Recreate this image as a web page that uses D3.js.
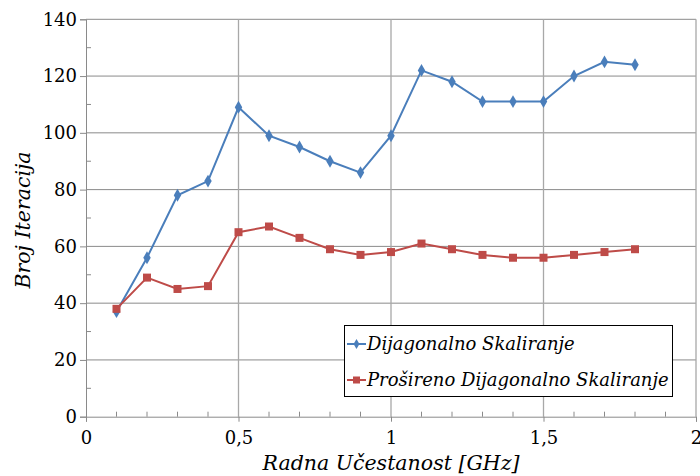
<!DOCTYPE html>
<html><head><meta charset="utf-8">
<script src="https://cdn.jsdelivr.net/npm/d3@7"></script>
<style>body{margin:0;background:#fff}svg{display:block}</style>
</head><body>
<svg id="c" width="700" height="476"></svg>
<script>
const freq = [0.1,0.2,0.3,0.4,0.5,0.6,0.7,0.8,0.9,1.0,1.1,1.2,1.3,1.4,1.5,1.6,1.7,1.8];
const dijagonalno = [37,56,78,83,109,99,95,90,86,99,122,118,111,111,111,120,125,124];
const prosireno = [38,49,45,46,65,67,63,59,57,58,61,59,57,56,56,57,58,59];
const seriesNames = ["Dijagonalno Skaliranje","Prošireno Dijagonalno Skaliranje"];
const xTicks = [0,0.5,1,1.5,2];
const xTickLabels = ["0","0,5","1","1,5","2"];
const yTicks = [0,20,40,60,80,100,120,140];

const svg = d3.select("#c");
const m = {l:86, r:696, t:19.3, b:416.7};
const x = d3.scaleLinear().domain([0,2]).range([m.l,m.r]);
const y = d3.scaleLinear().domain([0,140]).range([m.b,m.t]);
const font = "'DejaVu Serif', serif";
const grid = "#8a8a8a";

svg.append("g").selectAll("line").data(yTicks.filter(d=>d>0)).join("line")
  .attr("x1",m.l).attr("x2",m.r).attr("y1",d=>y(d)).attr("y2",d=>y(d))
  .attr("stroke",grid).attr("stroke-width",1);
svg.append("g").selectAll("line").data(xTicks.filter(d=>d>0)).join("line")
  .attr("x1",d=>x(d)).attr("x2",d=>x(d)).attr("y1",m.t).attr("y2",m.b)
  .attr("stroke","#a8a8a8").attr("stroke-width",1.3);

const yAxis = d3.axisLeft(y).tickValues(yTicks).tickSize(6).tickPadding(3).tickFormat(d3.format("d"));
const gy = svg.append("g").attr("transform",`translate(${m.l},0)`).call(yAxis);
gy.select(".domain").attr("stroke",grid);
gy.selectAll(".tick line").attr("stroke",grid);
gy.selectAll("text").attr("font-family",font).attr("font-size",18).attr("fill","#000");
svg.append("g").selectAll("line").data(d3.range(10,140,20)).join("line")
  .attr("x1",m.l).attr("x2",m.l+5).attr("y1",d=>y(d)).attr("y2",d=>y(d)).attr("stroke",grid);

const xAxis = d3.axisBottom(x).tickValues(xTicks).tickSize(5).tickPadding(10).tickFormat((d,i)=>xTickLabels[i]);
const gx = svg.append("g").attr("transform",`translate(0,${m.b})`).call(xAxis);
gx.select(".domain").attr("stroke",grid);
gx.selectAll(".tick line").attr("stroke",grid);
gx.selectAll("text").attr("font-family",font).attr("font-size",18).attr("fill","#000");
svg.append("g").selectAll("line").data(d3.range(1,20).filter(i=>i%5!==0).map(i=>i/10)).join("line")
  .attr("x1",d=>x(d)).attr("x2",d=>x(d)).attr("y1",m.b).attr("y2",m.b-5).attr("stroke",grid);

const line = d3.line().x((d,i)=>x(freq[i])).y(d=>y(d));
const colors = ["#4a7ebb","#be4b48"];
[dijagonalno, prosireno].forEach((s,k)=>{
  svg.append("path").datum(s).attr("d",line).attr("fill","none")
    .attr("stroke",colors[k]).attr("stroke-width",2);
});
svg.append("g").selectAll("path").data(dijagonalno).join("path")
  .attr("d",d3.symbol(d3.symbolDiamond,48)())
  .attr("transform",(d,i)=>`translate(${x(freq[i])},${y(d)})`).attr("fill",colors[0]);
svg.append("g").selectAll("rect").data(prosireno).join("rect")
  .attr("x",(d,i)=>x(freq[i])-4).attr("y",d=>y(d)-4).attr("width",8).attr("height",8).attr("fill",colors[1]);

svg.append("text").attr("x",(m.l+m.r)/2).attr("y",470).attr("text-anchor","middle")
  .attr("font-family",font).attr("font-style","italic").attr("font-size",20.5).text("Radna Učestanost [GHz]");
svg.append("text").attr("transform",`translate(30,${(m.t+m.b)/2+2}) rotate(-90)`).attr("text-anchor","middle")
  .attr("font-family",font).attr("font-style","italic").attr("font-size",20.5).text("Broj Iteracija");

const lg = svg.append("g");
lg.append("rect").attr("x",344.5).attr("y",325.5).attr("width",328).attr("height",71)
  .attr("fill","#fff").attr("stroke","#000").attr("stroke-width",1);
const ly = [344, 380];
seriesNames.forEach((n,k)=>{
  lg.append("line").attr("x1",347).attr("x2",366).attr("y1",ly[k]).attr("y2",ly[k]).attr("stroke",colors[k]).attr("stroke-width",2);
  if(k===0) lg.append("path").attr("d",d3.symbol(d3.symbolDiamond,30)()).attr("transform",`translate(356.5,${ly[k]})`).attr("fill",colors[k]);
  else lg.append("rect").attr("x",353).attr("y",ly[k]-3.5).attr("width",7).attr("height",7).attr("fill",colors[k]);
  lg.append("text").attr("x",367).attr("y",ly[k]+6).attr("font-family",font).attr("font-style","italic")
    .attr("font-size",18).text(n);
});
</script>
</body></html>
